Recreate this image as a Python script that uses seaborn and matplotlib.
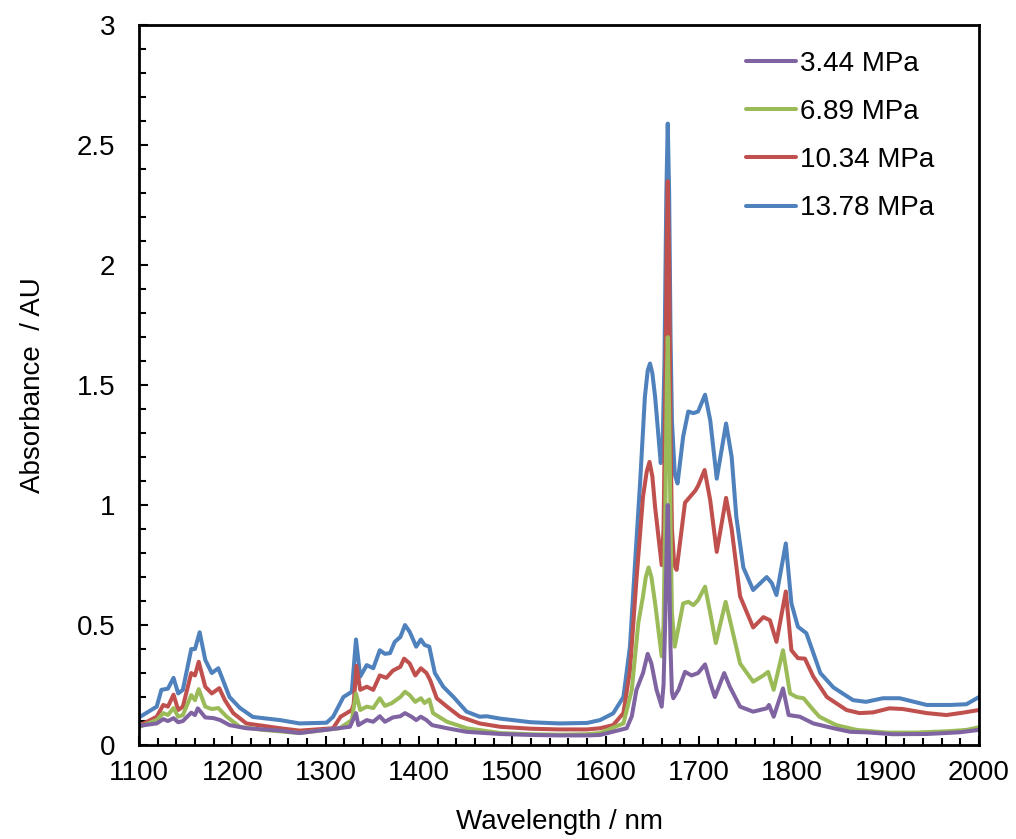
import pandas as pd
import matplotlib.pyplot as plt
import seaborn as sns
from matplotlib.ticker import MultipleLocator

"""
Absorbance spectra read off the reference chart, one pair of arrays per pressure.
"""
labels = ["3.44 MPa", "6.89 MPa", "10.34 MPa", "13.78 MPa"]
colors = ["#8064A2", "#9BBB59", "#C0504D", "#4F81BD"]

wl_344 = [1100, 1119, 1126, 1131, 1137, 1142, 1147, 1156, 1160, 1163, 1171, 1180, 1187, 1197,
          1215, 1251, 1272, 1326, 1332.5, 1335, 1344, 1351, 1358, 1363.5, 1372, 1380, 1385,
          1392, 1397, 1402, 1408, 1414, 1430, 1451, 1487, 1520, 1550, 1580, 1594, 1622.5, 1628,
          1633, 1640, 1645, 1649, 1654.5, 1660, 1662, 1664, 1665.5, 1666.5, 1668, 1669.5, 1671,
          1672.5, 1678, 1685, 1692, 1699, 1706.5, 1712, 1717, 1727, 1733, 1744, 1758, 1772.5,
          1775, 1780, 1790, 1796, 1808, 1822.5, 1844, 1862, 1879, 1908, 1944, 1979, 2000]
abs_344 = [0.08, 0.09, 0.108, 0.10, 0.112, 0.095, 0.10, 0.135, 0.125, 0.153, 0.115, 0.112, 0.104, 0.083,
           0.07, 0.06, 0.05, 0.076, 0.133, 0.083, 0.104, 0.097, 0.12, 0.097, 0.115, 0.12, 0.133,
           0.118, 0.104, 0.118, 0.104, 0.083, 0.07, 0.055, 0.046, 0.042, 0.04, 0.04, 0.042, 0.07, 0.12,
           0.23, 0.30, 0.38, 0.34, 0.23, 0.16, 0.25, 0.55, 0.85, 1.0, 0.75, 0.4, 0.22,
           0.195, 0.23, 0.305, 0.29, 0.30, 0.336, 0.26, 0.20, 0.30, 0.243, 0.16, 0.139, 0.153,
           0.167, 0.118, 0.236, 0.125, 0.118, 0.09, 0.07, 0.055, 0.053, 0.045, 0.046, 0.053, 0.063]

wl_689 = [1100, 1119, 1126, 1131, 1137, 1142, 1147, 1156, 1160, 1164, 1171, 1178, 1185, 1194,
          1208, 1233, 1272, 1315, 1328, 1332.5, 1337, 1344, 1351, 1358, 1363.5, 1371, 1380, 1385,
          1390, 1396, 1402, 1406, 1411, 1415, 1430, 1451, 1487, 1520, 1550, 1580, 1594, 1619,
          1628, 1635, 1640, 1643, 1646, 1649, 1653, 1660, 1662, 1664, 1665.5, 1666.5, 1668, 1669.5,
          1671, 1674, 1683, 1688.5, 1694, 1699, 1706.5, 1712, 1718, 1728.5, 1735, 1744, 1758, 1769,
          1774, 1780, 1790, 1797.5, 1804.5, 1812, 1822.5, 1829, 1847, 1869, 1901, 1933, 1969,
          1986.5, 2000]
abs_689 = [0.075, 0.104, 0.133, 0.125, 0.154, 0.118, 0.125, 0.208, 0.187, 0.233, 0.16, 0.15, 0.154, 0.118,
           0.076, 0.063, 0.05, 0.07, 0.104, 0.215, 0.146, 0.16, 0.154, 0.195, 0.163, 0.175, 0.20, 0.222,
           0.208, 0.18, 0.195, 0.175, 0.19, 0.133, 0.097, 0.07, 0.05, 0.045, 0.043, 0.045, 0.05, 0.09,
           0.23, 0.51, 0.62, 0.70, 0.74, 0.70, 0.59, 0.37, 0.5, 1.0, 1.5, 1.7, 1.4, 0.9,
           0.55, 0.41, 0.59, 0.597, 0.583, 0.604, 0.66, 0.55, 0.425, 0.597, 0.49, 0.34, 0.264, 0.29,
           0.305, 0.23, 0.395, 0.215, 0.20, 0.195, 0.146, 0.118, 0.083, 0.063, 0.052, 0.052, 0.058,
           0.063, 0.074]

wl_1034 = [1100, 1119, 1126, 1131, 1137, 1142, 1147, 1156, 1160, 1164, 1171, 1178, 1186, 1192,
           1201, 1215, 1251, 1272, 1308, 1316, 1328, 1330, 1333, 1337, 1344, 1351, 1358, 1365,
           1372, 1380, 1384, 1390, 1396, 1402, 1408, 1412, 1419, 1430, 1444, 1465, 1487, 1520,
           1550, 1580, 1594, 1608, 1619, 1626, 1633, 1640, 1644, 1647, 1650, 1653, 1660, 1662,
           1664, 1665.5, 1666.5, 1668, 1669.5, 1671, 1673.5, 1676, 1685, 1696, 1699, 1706, 1712,
           1719, 1729, 1735, 1744, 1758, 1769, 1776, 1783, 1793, 1799, 1806, 1813.5, 1822.5, 1837,
           1858, 1872, 1886.5, 1904, 1918.5, 1944, 1965, 1983, 2000]
abs_1034 = [0.08, 0.118, 0.167, 0.16, 0.21, 0.146, 0.16, 0.30, 0.29, 0.347, 0.243, 0.215, 0.237, 0.187,
            0.133, 0.09, 0.07, 0.06, 0.07, 0.118, 0.146, 0.17, 0.33, 0.23, 0.243, 0.23, 0.29, 0.28,
            0.31, 0.326, 0.36, 0.34, 0.29, 0.32, 0.30, 0.27, 0.195, 0.16, 0.118, 0.09, 0.076, 0.068,
            0.065, 0.065, 0.07, 0.083, 0.133, 0.31, 0.69, 1.035, 1.14, 1.18, 1.12, 0.99, 0.75, 0.9,
            1.5, 2.1, 2.35, 2.0, 1.3, 0.9, 0.75, 0.73, 1.01, 1.06, 1.08, 1.146, 1.02,
            0.805, 1.03, 0.90, 0.62, 0.49, 0.533, 0.52, 0.43, 0.64, 0.395, 0.362, 0.36, 0.285, 0.20,
            0.146, 0.133, 0.136, 0.153, 0.15, 0.133, 0.125, 0.135, 0.146]

wl_1378 = [1100, 1119, 1124, 1131, 1137, 1142, 1147, 1156, 1160, 1165, 1171, 1178, 1185, 1190,
           1197, 1208, 1222, 1251, 1272, 1301, 1308, 1319, 1328, 1332.5, 1337, 1344, 1351, 1358,
           1363.5, 1369, 1374, 1380, 1385, 1390, 1397, 1402, 1406, 1411, 1417, 1426, 1437, 1451,
           1465, 1472.5, 1487, 1520, 1550, 1580, 1594, 1608, 1619, 1626, 1631.5, 1637, 1642,
           1645, 1647.5, 1650, 1653, 1659, 1661, 1663, 1665, 1666.5, 1668, 1669.5, 1671, 1674,
           1677, 1683, 1688.5, 1694, 1699, 1706.5, 1712, 1719, 1729, 1735, 1740, 1747.5, 1758,
           1772.5, 1778, 1783, 1793, 1799, 1806, 1815, 1821, 1830, 1844, 1865, 1879, 1897, 1915,
           1944, 1969, 1986.5, 2000]
abs_1378 = [0.115, 0.16, 0.23, 0.235, 0.28, 0.215, 0.23, 0.40, 0.40, 0.47, 0.355, 0.30, 0.32, 0.27,
            0.20, 0.155, 0.117, 0.104, 0.09, 0.093, 0.118, 0.20, 0.222, 0.44, 0.285, 0.333, 0.32, 0.395,
            0.38, 0.383, 0.43, 0.45, 0.50, 0.472, 0.41, 0.44, 0.417, 0.41, 0.30, 0.243, 0.20, 0.139,
            0.118, 0.12, 0.11, 0.095, 0.09, 0.092, 0.104, 0.132, 0.20, 0.41, 0.76, 1.10, 1.45,
            1.56, 1.59, 1.55, 1.45, 1.175, 1.25, 1.6, 2.3, 2.59, 2.3, 1.7, 1.35, 1.13,
            1.09, 1.285, 1.39, 1.383, 1.39, 1.46, 1.354, 1.11, 1.34, 1.20, 0.95, 0.74, 0.646,
            0.70, 0.675, 0.625, 0.84, 0.59, 0.493, 0.466, 0.40, 0.30, 0.24, 0.187, 0.18, 0.195, 0.195,
            0.167, 0.167, 0.17, 0.20]

series = [(wl_344, abs_344), (wl_689, abs_689), (wl_1034, abs_1034), (wl_1378, abs_1378)]

frames = []
for lab, (wl, ab) in zip(labels, series):
    assert len(wl) == len(ab), lab
    frames.append(pd.DataFrame({"wavelength": wl, "absorbance": ab, "pressure": lab}))
df = pd.concat(frames, ignore_index=True)

"""
PLOT
Highest pressure drawn first so the low-pressure traces sit on top.
"""
sns.set_style("ticks")
plt.rcParams["font.family"] = ["Liberation Sans", "DejaVu Sans"]
plt.rcParams["text.color"] = "black"
plt.rcParams["axes.labelcolor"] = "black"

fig = plt.figure(figsize=(10.16, 8.39), dpi=100)
ax = fig.add_axes([0.1368, 0.112, 0.8268, 0.858])

sns.lineplot(
    data=df, x="wavelength", y="absorbance", hue="pressure",
    hue_order=labels[::-1], palette=dict(zip(labels, colors)),
    estimator=None, linewidth=2.9, ax=ax
)

ax.set_xlim(1100, 2000)
ax.set_ylim(0, 3)
ax.xaxis.set_major_locator(MultipleLocator(100))
ax.xaxis.set_minor_locator(MultipleLocator(20))
ax.yaxis.set_major_locator(MultipleLocator(0.5))
ax.yaxis.set_minor_locator(MultipleLocator(0.1))
ax.yaxis.set_major_formatter(plt.FuncFormatter(lambda v, p: f"{v:g}"))

ax.tick_params(which="both", direction="in", width=1.5, colors="black", labelsize=20)
ax.tick_params(which="major", length=6.5)
ax.tick_params(which="minor", length=5)
ax.tick_params(axis="x", pad=11)
ax.tick_params(axis="y", pad=17)

for side in ["left", "right", "top", "bottom"]:
    ax.spines[side].set_visible(True)
    ax.spines[side].set_linewidth(2)
    ax.spines[side].set_color("black")

ax.set_xlabel("Wavelength / nm", fontsize=20, labelpad=16)
ax.set_ylabel("Absorbance  / AU", fontsize=20, labelpad=22)

handles, labs = ax.get_legend_handles_labels()
ax.legend(handles[::-1], labs[::-1], loc="upper right", bbox_to_anchor=(0.96, 0.98),
          frameon=False, fontsize=20, handlelength=1.8, handletextpad=0.15,
          labelspacing=0.8, borderaxespad=0)

fig.savefig("out.png", dpi=100)
